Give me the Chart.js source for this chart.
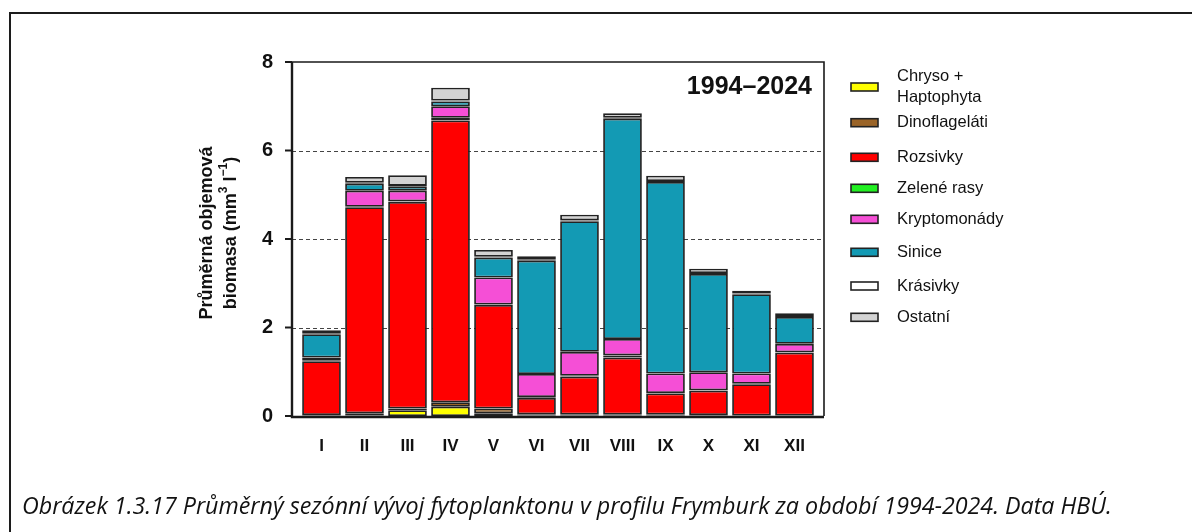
<!DOCTYPE html>
<html>
<head>
<meta charset="utf-8">
<script src="https://cdn.jsdelivr.net/npm/chart.js@4.4.1/dist/chart.umd.min.js"></script>
<style>
html, body { margin: 0; padding: 0; background: #fff; }
#wrap { position: relative; width: 1192px; height: 532px; overflow: hidden; }
#frame { position: absolute; left: 9px; top: 12px; width: 1200px; height: 540px;
  border-top: 2px solid #1c1c1c; border-left: 2px solid #1c1c1c; }
#chart { position: absolute; left: 0; top: 0; }
#cap { position: absolute; left: 22px; top: 489px; font-family: "Open Sans", sans-serif;
  font-style: italic; font-size: 19px; color: #111; white-space: nowrap; }
</style>
</head>
<body>
<div id="wrap">
  <div id="frame"></div>
  <canvas id="chart" width="1192" height="532"></canvas>
  <div id="cap">Obrázek 1.3.17 Průměrný sezónní vývoj fytoplanktonu v profilu Frymburk za období 1994-2024. Data HBÚ.</div>
</div>
<script>
// months and series (mm3/l), bottom of stack first
var months = ["I", "II", "III", "IV", "V", "VI", "VII", "VIII", "IX", "X", "XI", "XII"];
var chryso    = [0.01, 0.01, 0.13, 0.21, 0.06, 0.01, 0.01, 0.01, 0.01, 0.01, 0.00, 0.00];
var dino      = [0.01, 0.05, 0.04, 0.10, 0.11, 0.03, 0.02, 0.02, 0.02, 0.01, 0.01, 0.01];
var rozsivky  = [1.22, 4.66, 4.67, 6.37, 2.34, 0.37, 0.86, 1.29, 0.48, 0.55, 0.71, 1.42];
var zelene    = [0.01, 0.01, 0.01, 0.06, 0.01, 0.02, 0.02, 0.05, 0.01, 0.01, 0.01, 0.01];
var krypto    = [0.07, 0.36, 0.24, 0.26, 0.61, 0.52, 0.54, 0.37, 0.44, 0.41, 0.23, 0.19];
var sinice    = [0.53, 0.16, 0.09, 0.11, 0.45, 2.56, 2.95, 4.98, 4.33, 2.22, 1.79, 0.61];
var krasivky  = [0.01, 0.02, 0.02, 0.02, 0.02, 0.02, 0.02, 0.02, 0.02, 0.02, 0.02, 0.02];
var ostatni   = [0.08, 0.13, 0.24, 0.29, 0.15, 0.08, 0.13, 0.10, 0.12, 0.10, 0.06, 0.06];

var seriesLabels = [["Chryso +", "Haptophyta"], ["Dinoflageláti"], ["Rozsivky"], ["Zelené rasy"],
                    ["Kryptomonády"], ["Sinice"], ["Krásivky"], ["Ostatní"]];
var seriesColors = ["#ffff00", "#9a6428", "#ff0000", "#22f022", "#f54fd6", "#139ab4", "#ffffff", "#d3d3d3"];
var yTicks = [0, 2, 4, 6, 8];
var period = "1994–2024";
var yTitle1 = "Průměrná objemová";

var allSeries = [chryso, dino, rozsivky, zelene, krypto, sinice, krasivky, ostatni];
var datasets = [];
for (var i = 0; i < allSeries.length; i++) {
  datasets.push({
    label: seriesLabels[i].join(" "),
    data: allSeries[i],
    backgroundColor: seriesColors[i],
    borderColor: "#222",
    borderWidth: 1.8,
    borderSkipped: false,
    barPercentage: 0.9,
    categoryPercentage: 1.0
  });
}

var bold = "'Liberation Sans', Arial, sans-serif";

// dashed grid + frame around the plot
var framePlugin = {
  id: "frame",
  beforeDatasetsDraw: function(chart) {
    var c = chart.ctx, ca = chart.chartArea, y = chart.scales.y;
    var L = ca.left - 8, R = ca.right + 8;
    c.save();
    c.strokeStyle = "#444";
    c.lineWidth = 1.2;
    c.setLineDash([4, 3]);
    for (var k = 1; k < yTicks.length - 1; k++) {
      var py = Math.round(y.getPixelForValue(yTicks[k])) + 0.5;
      c.beginPath(); c.moveTo(L, py); c.lineTo(R, py); c.stroke();
    }
    c.restore();
  },
  afterDatasetsDraw: function(chart) {
    var c = chart.ctx, ca = chart.chartArea, y = chart.scales.y;
    var L = ca.left - 8, R = ca.right + 8;
    var top = y.getPixelForValue(8), bot = y.getPixelForValue(0);
    c.save();
    c.strokeStyle = "#1a1a1a";
    c.lineWidth = 1.6;
    c.beginPath(); c.moveTo(L, top); c.lineTo(R, top); c.lineTo(R, bot); c.stroke();
    c.lineWidth = 2.4;
    c.beginPath(); c.moveTo(L, top); c.lineTo(L, bot + 1); c.lineTo(R, bot + 1); c.stroke();
    c.lineWidth = 2;
    for (var k = 0; k < yTicks.length; k++) {
      var py = y.getPixelForValue(yTicks[k]);
      c.beginPath(); c.moveTo(L - 7, py); c.lineTo(L, py); c.stroke();
    }
    c.restore();
  },
  afterDraw: function(chart) {
    var c = chart.ctx, ca = chart.chartArea;
    c.save();
    // period label
    c.fillStyle = "#111";
    c.font = "bold 25px " + bold;
    c.textAlign = "right";
    c.textBaseline = "middle";
    c.fillText(period, ca.right - 4, ca.top + 25);

    // legend
    var lx = ca.right + 35;
    var ly = [87, 122.7, 157.3, 188.3, 219.3, 252.3, 286, 317.3];
    c.font = "16.5px " + bold;
    c.textAlign = "left";
    for (var k = 0; k < datasets.length; k++) {
      c.fillStyle = datasets[k].backgroundColor;
      c.fillRect(lx, ly[k] - 4, 27, 8);
      c.strokeStyle = "#222";
      c.lineWidth = 1.6;
      c.strokeRect(lx, ly[k] - 4, 27, 8);
      c.fillStyle = "#111";
      var lines = seriesLabels[k];
      for (var m = 0; m < lines.length; m++) {
        var off = (m - (lines.length - 1) / 2) * 21.5;
        c.fillText(lines[m], lx + 46, ly[k] + off);
      }
    }

    // y axis title (two lines, rotated)
    var cx = ca.left - 81, cy = (ca.top + ca.bottom) / 2 - 6;
    c.translate(cx, cy);
    c.rotate(-Math.PI / 2);
    c.fillStyle = "#111";
    c.textBaseline = "middle";
    c.textAlign = "center";
    c.font = "bold 18px " + bold;
    c.fillText(yTitle1, 0, -12);
    var big = "bold 18px " + bold, small = "bold 12px " + bold;
    var parts = [["biomasa (mm", big, 0], ["3", small, -7], [" l", big, 0], ["−1", small, -7], [")", big, 0]];
    var total = 0;
    for (var p = 0; p < parts.length; p++) { c.font = parts[p][1]; total += c.measureText(parts[p][0]).width; }
    var px = -total / 2;
    c.textAlign = "left";
    for (p = 0; p < parts.length; p++) {
      c.font = parts[p][1];
      c.fillText(parts[p][0], px, 12 + parts[p][2]);
      px += c.measureText(parts[p][0]).width;
    }
    c.restore();
  }
};

new Chart(document.getElementById("chart").getContext("2d"), {
  type: "bar",
  data: { labels: months, datasets: datasets },
  plugins: [framePlugin],
  options: {
    responsive: false,
    animation: false,
    layout: { padding: { left: 240, right: 376, top: 62, bottom: 76 } },
    plugins: { legend: { display: false }, tooltip: { enabled: false } },
    scales: {
      x: {
        stacked: true,
        grid: { display: false },
        border: { display: false },
        ticks: { color: "#111", font: { family: bold, size: 17, weight: "bold" }, padding: 12 },
        afterFit: function(s) { s.height = 40; }
      },
      y: {
        stacked: true,
        min: 0, max: 8,
        grid: { display: false },
        border: { display: false },
        ticks: { stepSize: 2, color: "#111", font: { family: bold, size: 20, weight: "bold" }, padding: 19 },
        afterFit: function(s) { s.width = 60; }
      }
    }
  }
});

// fit the caption to its width in the figure
var cap = document.getElementById("cap");
var mc = document.createElement("canvas").getContext("2d");
mc.font = "italic 19px 'Open Sans'";
var w = mc.measureText(cap.textContent).width;
cap.style.fontSize = (19 * 1090 / w).toFixed(2) + "px";
</script>
</body>
</html>
